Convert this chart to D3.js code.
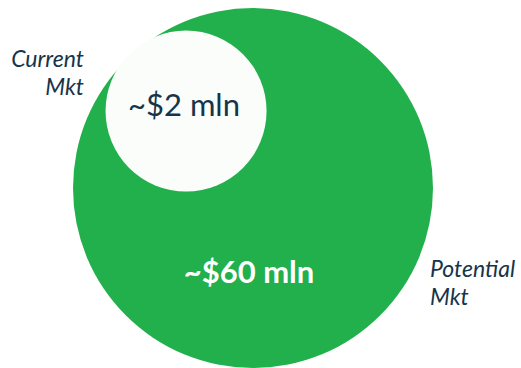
<!DOCTYPE html>
<html>
<head>
<meta charset="utf-8">
<script src="https://cdn.jsdelivr.net/npm/d3@7"></script>
<style>
  html, body { margin: 0; padding: 0; background: #ffffff; }
  svg { display: block; }
  text { font-family: Lato, "Open Sans", sans-serif; }
</style>
</head>
<body>
<svg id="chart" width="521" height="368"></svg>
<script>
// Market sizes (USD millions)
const markets = ["Potential Mkt", "Current Mkt"];
const marketValues = [60, 2];
const valueLabels = ["~$60 mln", "~$2 mln"];
const nameLines = [["Potential", "Mkt"], ["Current", "Mkt"]];

const width = 521, height = 368;
const svg = d3.select("#chart");

const green = "#21b04b";
const ink = "#16344a";

// circle radius from market size
const r = d3.scaleSqrt()
  .domain([d3.min(marketValues), d3.max(marketValues)])
  .range([80.5, 180]);

// outer circle centre; inner circle pushed to the upper-left rim
const cx = 253, cy = 188;
const outerR = r(marketValues[0]);
const innerR = r(marketValues[1]);
const offset = d3.scaleLinear().domain([0, 1]).range([0, outerR - innerR]);
const ang = Math.atan2(-77, -67);
const innerPos = { x: cx + Math.cos(ang) * offset(1.025), y: cy + Math.sin(ang) * offset(1.025) };

const nodes = markets.map((m, i) => ({
  name: m,
  value: marketValues[i],
  label: valueLabels[i],
  lines: nameLines[i],
  x: i === 0 ? cx : innerPos.x,
  y: i === 0 ? cy : innerPos.y,
  r: r(marketValues[i])
}));

svg.selectAll("circle.mkt")
  .data(nodes)
  .join("circle")
  .attr("class", "mkt")
  .attr("cx", d => d.x)
  .attr("cy", d => d.y)
  .attr("r", d => d.r)
  .attr("fill", (d, i) => i === 0 ? green : "#fafdfa");

// value labels
svg.append("text")
  .attr("x", 249)
  .attr("y", 283)
  .attr("text-anchor", "middle")
  .attr("fill", "#ffffff")
  .attr("font-weight", 700)
  .attr("font-size", 31)
  .text(nodes[0].label);

svg.append("text")
  .attr("x", 184)
  .attr("y", 116)
  .attr("text-anchor", "middle")
  .attr("fill", ink)
  .attr("font-weight", 400)
  .attr("font-size", 31)
  .text(nodes[1].label);

// market names
const potential = svg.append("text")
  .attr("x", 430)
  .attr("y", 277)
  .attr("fill", ink)
  .attr("font-style", "italic")
  .attr("font-size", 23);
potential.selectAll("tspan")
  .data(nodes[0].lines)
  .join("tspan")
  .attr("x", 430)
  .attr("dy", (d, i) => i === 0 ? 0 : 28)
  .text(d => d);

const current = svg.append("text")
  .attr("x", 84)
  .attr("y", 67)
  .attr("fill", ink)
  .attr("font-style", "italic")
  .attr("font-size", 23)
  .attr("text-anchor", "end");
current.selectAll("tspan")
  .data(nodes[1].lines)
  .join("tspan")
  .attr("x", 84)
  .attr("dy", (d, i) => i === 0 ? 0 : 28)
  .text(d => d);
</script>
</body>
</html>
